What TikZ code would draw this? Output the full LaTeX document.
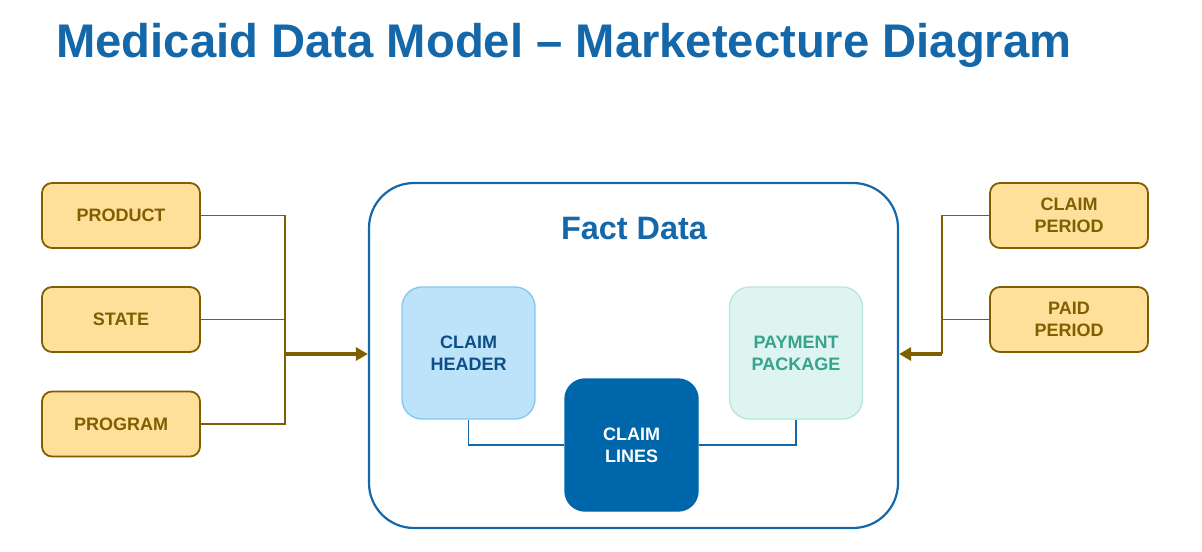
\documentclass[tikz,border=0pt]{standalone}
\usepackage{fontspec}
\setmainfont{Liberation Sans}
\usetikzlibrary{arrows.meta}
\definecolor{titleblue}{HTML}{1467A9}
\definecolor{dimfill}{HTML}{FFE09B}
\definecolor{dimbrown}{HTML}{7F5F00}
\definecolor{headfill}{HTML}{BDE3FA}
\definecolor{headline}{HTML}{85C8F0}
\definecolor{headtext}{HTML}{0D4E86}
\definecolor{linesfill}{HTML}{0066AA}
\definecolor{payfill}{HTML}{DDF4F0}
\definecolor{payline}{HTML}{B8E6DE}
\definecolor{paytext}{HTML}{37A38C}
\begin{document}
\begin{tikzpicture}[x=0.5pt, y=-0.5pt,
    dimbox/.style={draw=dimbrown, line width=0.9pt, fill=dimfill, rounded corners=5pt,
      minimum width=79pt, minimum height=32.5pt, align=center, text=dimbrown,
      font=\fontsize{9}{11}\selectfont\bfseries},
    factbox/.style={rounded corners=10pt, minimum width=66.5pt, minimum height=66pt,
      align=center, font=\fontsize{9}{11}\selectfont\bfseries, line width=0.7pt},
    dimlink/.style={draw=dimbrown, line width=0.95pt},
    factlink/.style={draw=titleblue, line width=0.9pt}]
  \useasboundingbox (0,0) rectangle (1202,551);
  % title
  \node[anchor=base west, inner sep=0pt, text=titleblue, font=\fontsize{23.6}{28}\selectfont\bfseries]
    (title) at (56,58) {Medicaid Data Model – Marketecture Diagram};
  % fact area
  \node[draw=titleblue, line width=1.1pt, rounded corners=22.5pt, minimum width=264.5pt,
    minimum height=172.5pt] (fact) at (633.5,355.5) {};
  \node[anchor=base, inner sep=0pt, text=titleblue, font=\fontsize{16.2}{20}\selectfont\bfseries]
    (facttitle) at (634,239) {Fact Data};
  \node[factbox, draw=headline, fill=headfill, text=headtext] (header) at (468.5,353) {CLAIM\\HEADER};
  \node[factbox, draw=linesfill, fill=linesfill, text=white] (lines) at (631.5,445) {CLAIM\\LINES};
  \node[factbox, draw=payline, fill=payfill, text=paytext] (payment) at (796,353) {PAYMENT\\PACKAGE};
  \draw[factlink] (header.south) |- (lines.west);
  \draw[factlink] (lines.east) -| (payment.south);
  % dimensions on the left
  \node[dimbox] (product) at (121,215.5) {PRODUCT};
  \node[dimbox] (state) at (121,319.5) {STATE};
  \node[dimbox] (program) at (121,424) {PROGRAM};
  \coordinate (jleft) at (285,354);
  \draw[dimlink] (product.east) -| (jleft);
  \draw[dimlink] (program.east) -| (jleft);
  \draw[dimlink] (state.east) -- (state.east -| jleft);
  \draw[dimlink, line width=1.6pt, -{Triangle[length=6pt, width=6.5pt]}] (jleft) -- (jleft -| fact.west);
  % dimensions on the right
  \node[dimbox] (claimperiod) at (1069,215.5) {CLAIM\\PERIOD};
  \node[dimbox] (paidperiod) at (1069,319.5) {PAID\\PERIOD};
  \coordinate (jright) at (942,354);
  \draw[dimlink] (claimperiod.west) -| (jright);
  \draw[dimlink] (paidperiod.west) -- (paidperiod.west -| jright);
  \draw[dimlink, line width=1.6pt, -{Triangle[length=6pt, width=6.5pt]}] (jright) -- (jright -| fact.east);
\end{tikzpicture}
\end{document}
